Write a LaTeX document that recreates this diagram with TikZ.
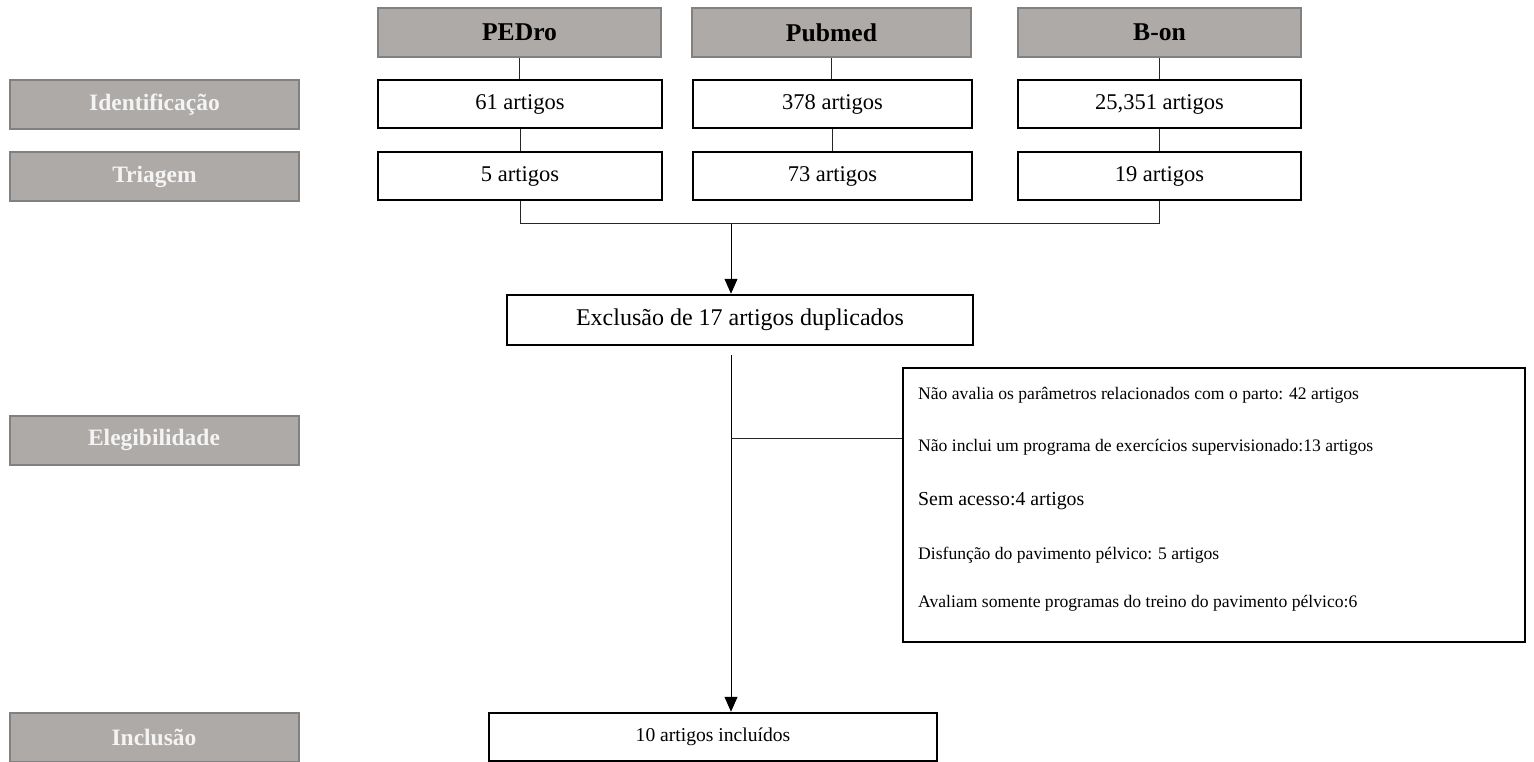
\documentclass[tikz,border=0pt]{standalone}
\usepackage{fontspec}
\setmainfont{Liberation Serif}
\usetikzlibrary{arrows.meta}
\definecolor{graybox}{HTML}{ADAAA8}
\definecolor{grayedge}{HTML}{818181}
\definecolor{labeltext}{HTML}{F4F4F4}
\begin{document}
\begin{tikzpicture}[x=1pt,y=-1pt,
 stage/.style={draw=grayedge, fill=graybox, line width=2pt, minimum width=289pt, minimum height=49pt, inner sep=0pt, text=labeltext, font=\fontsize{23.5}{28}\selectfont\bfseries},
 dbhead/.style={draw=grayedge, fill=graybox, line width=2pt, minimum height=49pt, inner sep=0pt, font=\fontsize{25.6}{30}\selectfont\bfseries},
 countbox/.style={draw, line width=2.5pt, minimum height=48pt, inner sep=0pt, font=\fontsize{22.5}{27}\selectfont},
 link/.style={line width=1pt, draw=black!85},
 arrowlink/.style={line width=1pt, -{Triangle[width=13pt,length=15pt]}},
 reason/.style={anchor=base west, inner sep=0pt, font=\fontsize{17.6}{21}\selectfont}
]
\useasboundingbox (0,0) rectangle (1534,762);

% stage labels
\node[stage] (ident) at (154.5,104.5) {Identificação};
\node[stage] (triag) at (154.5,176.5) {Triagem};
\node[stage] (eleg) at (154,440) {Elegibilidade};
\node[stage] (incl) at (154,737) {Inclusão};

% database headers
\node[dbhead, minimum width=283pt] (hPED) at (519.5,32.5) {PEDro};
\node[dbhead, minimum width=279pt] (hPUB) at (831.5,32.5) {Pubmed};
\node[dbhead, minimum width=283pt] (hBON) at (1159.5,32.5) {B-on};

% identification counts
\node[countbox, minimum width=284pt] (iPED) at (520,104) {61 artigos};
\node[countbox, minimum width=279pt] (iPUB) at (832.5,104) {378 artigos};
\node[countbox, minimum width=283pt] (iBON) at (1159.5,104) {25,351 artigos};

% screening counts
\node[countbox, minimum width=284pt] (tPED) at (520,176) {5 artigos};
\node[countbox, minimum width=279pt] (tPUB) at (832.5,176) {73 artigos};
\node[countbox, minimum width=283pt] (tBON) at (1159.5,176) {19 artigos};

% duplicates
\node[countbox, minimum width=466pt, minimum height=50pt, font=\fontsize{24}{29}\selectfont] (excl) at (740,320) {Exclusão de 17 artigos duplicados};

% reasons box
\node[draw, line width=2.5pt, minimum width=622pt, minimum height=274pt, inner sep=0pt] (reasons) at (1214,505) {};
\node[reason] (r1) at (918,399) {Não avalia os parâmetros relacionados com o parto: 42 artigos};
\node[reason] (r2) at (918,451) {Não inclui um programa de exercícios supervisionado:13 artigos};
\node[reason, font=\fontsize{19.8}{24}\selectfont] (r3) at (918,505) {Sem acesso:4 artigos};
\node[reason] (r4) at (918,559) {Disfunção do pavimento pélvico: 5 artigos};
\node[reason] (r5) at (918,607) {Avaliam somente programas do treino do pavimento pélvico:6};

% included
\node[countbox, minimum width=448pt, font=\fontsize{19.6}{24}\selectfont] (final) at (713,737) {10 artigos incluídos};

% connectors
\draw[link] (hPED.south) -- (hPED.south |- iPED.north);
\draw[link] (hPUB.south) -- (hPUB.south |- iPUB.north);
\draw[link] (hBON.south) -- (hBON.south |- iBON.north);
\draw[link] (iPED.south) -- (iPED.south |- tPED.north);
\draw[link] (iPUB.south) -- (iPUB.south |- tPUB.north);
\draw[link] (iBON.south) -- (iBON.south |- tBON.north);

\coordinate (merge) at (731,224);
\draw[link] (tPED.south) -- (tPED.south |- merge) -- (merge -| tBON.south) -- (tBON.south);
\draw[arrowlink] (merge) -- (merge |- excl.north);

\coordinate (split) at (731,355);
\coordinate (branch) at (731,438);
\draw[arrowlink] (split) -- (split |- final.north);
\draw[link] (branch) -- (branch -| reasons.west);
\end{tikzpicture}
\end{document}
